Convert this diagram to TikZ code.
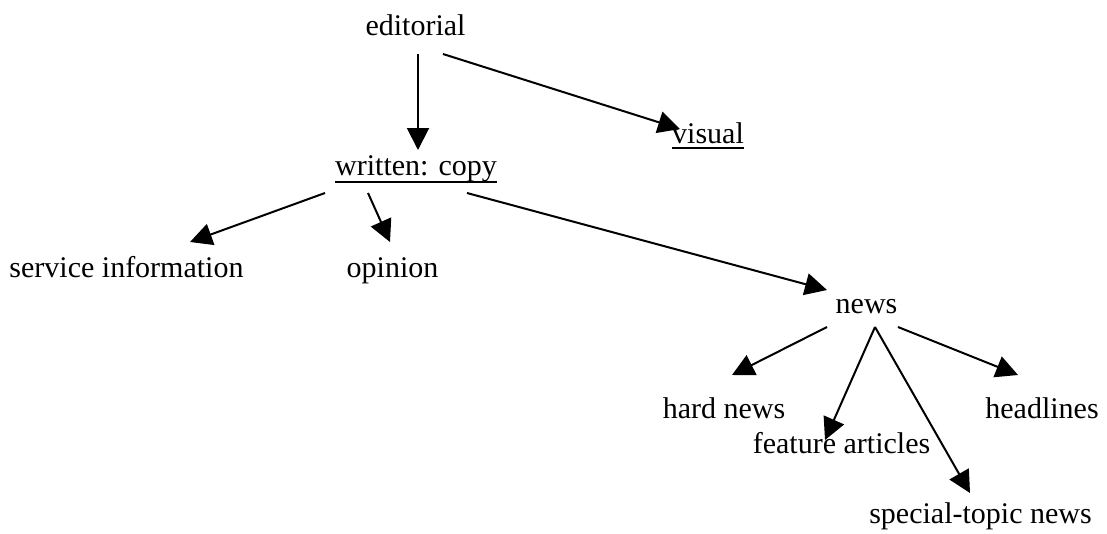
\documentclass[tikz,border=0pt]{standalone}
\usepackage{fontspec}
\setmainfont{Liberation Serif}
\usetikzlibrary{arrows.meta,calc}
\begin{document}
\begin{tikzpicture}[x=1pt,y=-1pt,
  lbl/.style={inner sep=0pt,anchor=base,font=\fontsize{30}{36}\selectfont},
  conn/.style={line width=2pt,-{Triangle[length=22pt,width=22pt]}},
  uline/.style={line width=2.2pt}]
\useasboundingbox (0,0) rectangle (1107,533);
\node[lbl] (ed) at (415.5,35) {editorial};
\node[lbl] (wr) at (416,175) {written: copy};
\node[lbl] (vis) at (708,143) {visual};
\node[lbl] (si) at (126.5,277) {service information};
\node[lbl] (op) at (392.5,277) {opinion};
\node[lbl] (nw) at (866.5,313) {news};
\node[lbl] (hn) at (724,418) {hard news};
\node[lbl] (fa) at (841.5,453) {feature articles};
\node[lbl] (hl) at (1042,418) {headlines};
\node[lbl] (sn) at (980.5,523) {special-topic news};
\draw[uline] ($(wr.base west)+(0,7)$) -- ($(wr.base east)+(0,7)$);
\draw[uline] ($(vis.base west)+(0,5)$) -- ($(vis.base east)+(0,5)$);
\draw[conn] ($(ed.base)+(2.5,19)$) -- ($(wr.base)+(2,-25)$);
\draw[conn] ($(ed.base)+(27.5,19)$) -- ($(vis.base)+(-28,-14)$);
\draw[conn] ($(wr.base)+(-91,18)$) -- ($(si.base)+(63.5,-35)$);
\draw[conn] ($(wr.base)+(-48,18)$) -- ($(op.base)+(-2.5,-35)$);
\draw[conn] ($(wr.base)+(51,18)$) -- ($(nw.base)+(-39.5,-23)$);
\draw[conn] ($(nw.base)+(-39.5,14)$) -- ($(hn.base)+(8,-43)$);
\draw[conn] ($(nw.base)+(8.5,14)$) -- ($(fa.base)+(-16.5,-13)$);
\draw[conn] ($(nw.base)+(8.5,14)$) -- ($(sn.base)+(-10.5,-30)$);
\draw[conn] ($(nw.base)+(31.5,14)$) -- ($(hl.base)+(-24,-43)$);
\end{tikzpicture}
\end{document}
